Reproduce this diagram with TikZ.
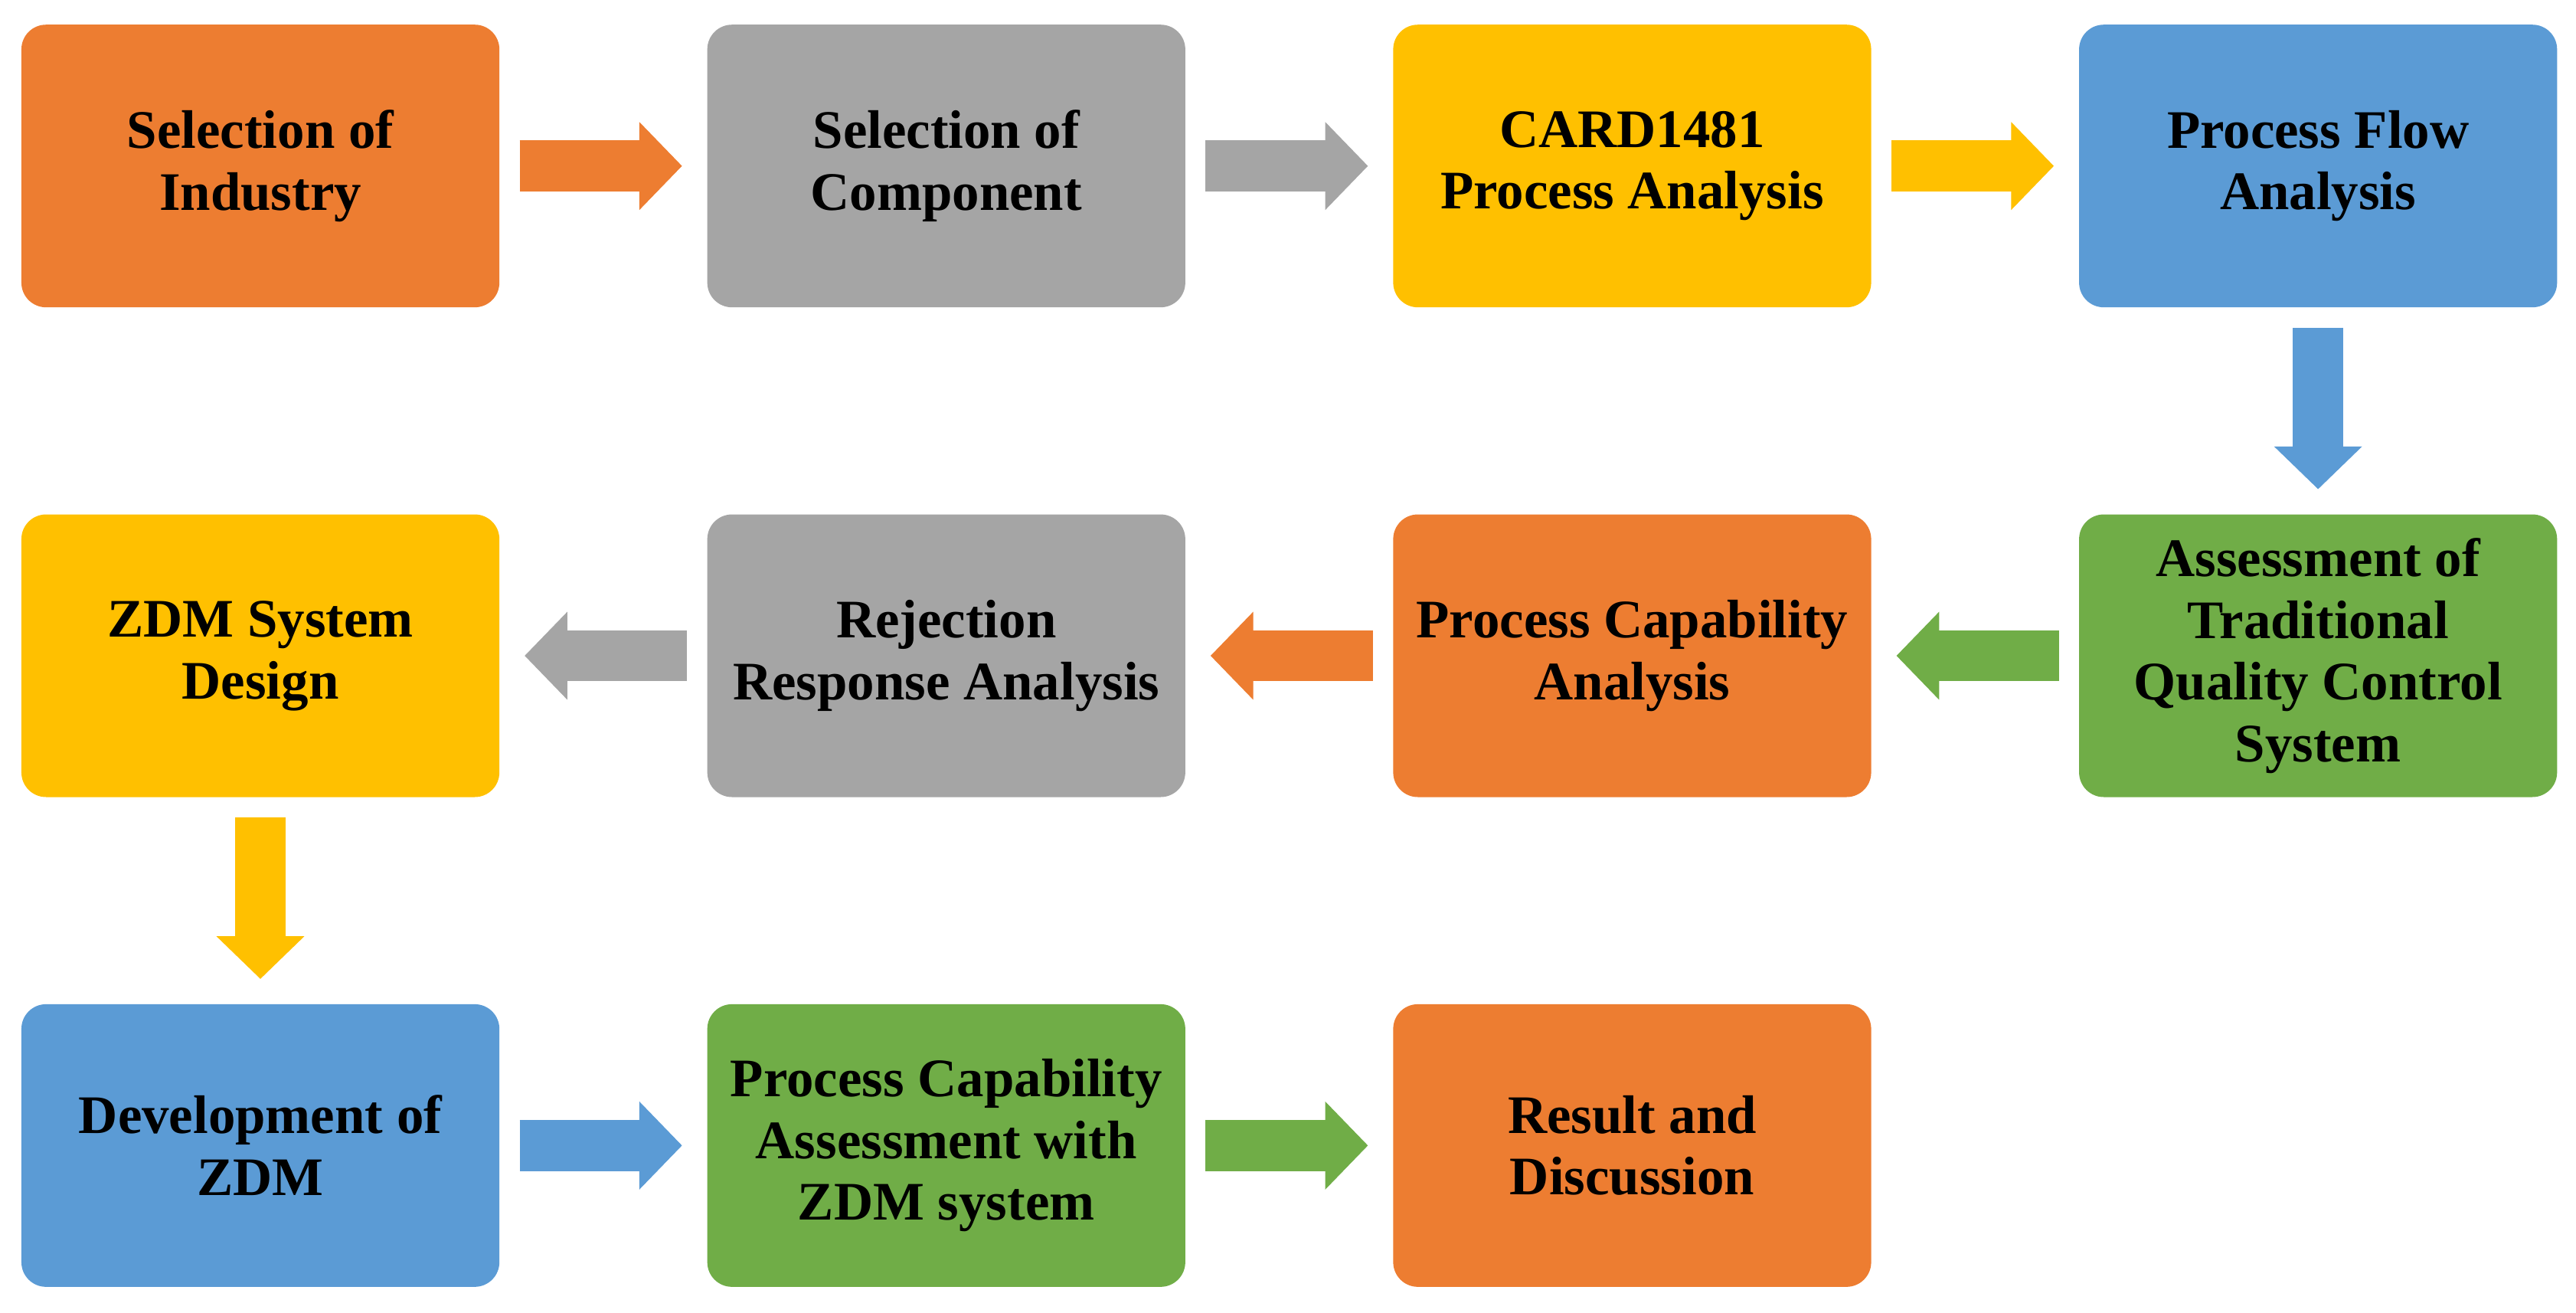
\documentclass[tikz,border=0pt]{standalone}
\usepackage{fontspec}
\setmainfont{Liberation Serif}
\usetikzlibrary{arrows.meta}
\definecolor{cOrange}{HTML}{ED7D31}
\definecolor{cGray}{HTML}{A5A5A5}
\definecolor{cGold}{HTML}{FFC000}
\definecolor{cBlue}{HTML}{5B9BD5}
\definecolor{cGreen}{HTML}{70AD47}
\begin{document}
\begin{tikzpicture}[x=0.02cm,y=-0.02cm,
  box/.style={rounded corners=0.3cm, minimum width=5.82cm, minimum height=3.44cm,
    align=center, inner sep=0pt, text=black,
    font=\fontsize{18.8}{21.4}\selectfont\bfseries},
  flow/.style={line width=0.62cm, -{Triangle[length=0.52cm,width=1.04cm]},
    shorten <=0.24cm, shorten >=0.3cm}]
\useasboundingbox (0,0) rectangle (1568,798.6);
% row 1
\node[box, fill=cOrange] (n1) at (158.5,101) {Selection of\\Industry};
\node[box, fill=cGray]   (n2) at (576,101)   {Selection of\\Component};
\node[box, fill=cGold]   (n3) at (993.5,101) {CARD1481\\Process Analysis};
\node[box, fill=cBlue]   (n4) at (1411,101)  {Process Flow\\Analysis};
% row 2
\node[box, fill=cGreen]  (n5) at (1411,399)  {Assessment of\\Traditional\\Quality Control\\System};
\node[box, fill=cOrange] (n6) at (993.5,399) {Process Capability\\Analysis};
\node[box, fill=cGray]   (n7) at (576,399)   {Rejection\\Response Analysis};
\node[box, fill=cGold]   (n8) at (158.5,399) {ZDM System\\Design};
% row 3
\node[box, fill=cBlue]   (n9) at (158.5,697) {Development of\\ZDM};
\node[box, fill=cGreen]  (n10) at (576,697)  {Process Capability\\Assessment with\\ZDM system};
\node[box, fill=cOrange] (n11) at (993.5,697) {Result and\\Discussion};
% connectors
\draw[flow, cOrange] (n1) -- (n2);
\draw[flow, cGray]   (n2) -- (n3);
\draw[flow, cGold]   (n3) -- (n4);
\draw[flow, cBlue]   (n4) -- (n5);
\draw[flow, cGreen]  (n5) -- (n6);
\draw[flow, cOrange] (n6) -- (n7);
\draw[flow, cGray]   (n7) -- (n8);
\draw[flow, cGold]   (n8) -- (n9);
\draw[flow, cBlue]   (n9) -- (n10);
\draw[flow, cGreen]  (n10) -- (n11);
\end{tikzpicture}
\end{document}
